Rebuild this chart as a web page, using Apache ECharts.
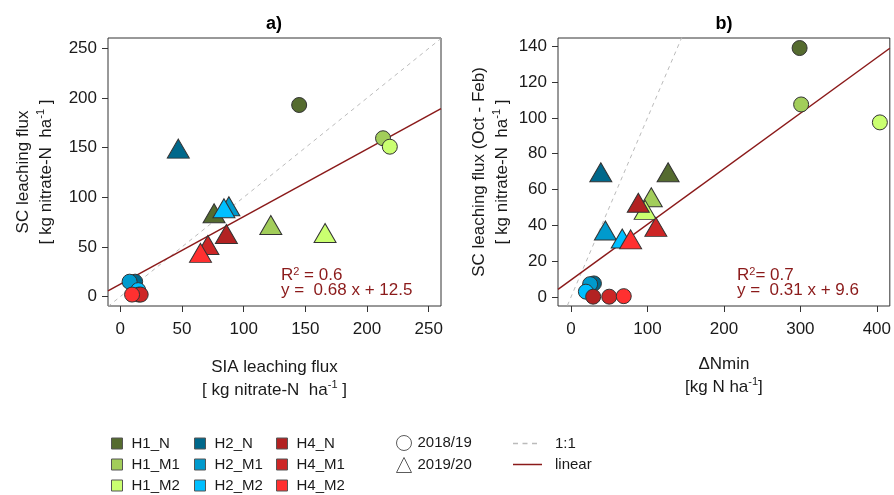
<!DOCTYPE html>
<html>
<head>
<meta charset="utf-8">
<script src="https://cdn.jsdelivr.net/npm/echarts@6/dist/echarts.min.js"></script>
<style>
  html, body { margin: 0; padding: 0; background: #fff; }
  #chart { width: 894px; height: 495px; }
</style>
</head>
<body>
<div id="chart"></div>
<script>
// groups (treatment) and their colours
var groups = ['H1_N', 'H1_M1', 'H1_M2', 'H2_N', 'H2_M1', 'H2_M2', 'H4_N', 'H4_M1', 'H4_M2'];
var groupColors = ['#556B2F', '#A2CD5A', '#CAFF70', '#00688B', '#009ACD', '#00BFFF', '#B22222', '#CD2626', '#FF3030'];
var years = ['2018/19', '2019/20'];

// a) SIA leaching flux (x) vs SC leaching flux (y)
var siaX1819 = [145, 213, 218.5, 12, 7.5, 14.5, 15, 16.5, 9.5];
var scY1819 = [193, 159.5, 151, 15, 15, 6.5, 2, 2, 2];
var siaX1920 = [76, 122, 166, 47, 88, 84, 86, 71, 65];
var scY1920 = [81, 69, 61, 146, 88, 86, 60, 49, 41];

// b) delta Nmin (x) vs SC leaching flux Oct - Feb (y)
var dNminX1819 = [299, 301, 404, 30, 25, 19.5, 29, 50, 69];
var scOFY1819 = [139, 107.5, 97.5, 7.6, 7.2, 3, 0.2, 0.2, 0.5];
var dNminX1920 = [127, 105, 97, 39, 45, 67, 88, 111, 78];
var scOFY1920 = [68, 54, 47, 68, 35.5, 31, 51, 37.5, 30.5];

// linear fits per panel
var fitSlope = [0.68, 0.31];
var fitIntercept = [12.5, 9.6];
var fitR2 = [0.6, 0.7];

// tick labels
var ticksAX = [0, 50, 100, 150, 200, 250];
var ticksAY = [0, 50, 100, 150, 200, 250];
var ticksBX = [0, 100, 200, 300, 400];
var ticksBY = [0, 20, 40, 60, 80, 100, 120, 140];

var FONT = 'Liberation Sans, Arial, sans-serif';
var TXT = '#1a1a1a';
var RED = '#8B1A1A';
var ranges = [
  { x: [-10, 260], y: [-9.5, 260.5] },
  { x: [-17, 417], y: [-5, 144.6] }
];

var myChart = echarts.init(document.getElementById('chart'));

function axis(idx, dim, ticks, nameTxt, gap) {
  var r = ranges[idx][dim];
  return {
    type: 'value',
    gridIndex: idx,
    min: r[0],
    max: r[1],
    name: nameTxt,
    nameLocation: 'middle',
    nameGap: gap,
    nameRotate: dim === 'y' ? 90 : 0,
    nameTextStyle: {
      fontFamily: FONT, fontSize: 17, color: TXT, lineHeight: 23,
      rich: {
        t: { fontFamily: FONT, fontSize: 17, color: TXT, lineHeight: 23 },
        s: { fontFamily: FONT, fontSize: 11, color: TXT, verticalAlign: 'top' }
      }
    },
    axisLine: { show: false, onZero: false },
    splitLine: { show: false },
    axisTick: { show: true, length: 6, customValues: ticks, lineStyle: { color: '#333' } },
    axisLabel: {
      customValues: ticks, fontFamily: FONT, fontSize: 17, color: TXT,
      margin: dim === 'y' ? 11 : 15
    }
  };
}

// scatter series, one per group and panel
var series = [];
var panelData = [
  [siaX1819, scY1819, siaX1920, scY1920],
  [dNminX1819, scOFY1819, dNminX1920, scOFY1920]
];
panelData.forEach(function (pd, p) {
  var xr = ranges[p].x;
  // 1:1 line
  series.push({
    name: '1:1', type: 'line', xAxisIndex: p, yAxisIndex: p, symbol: 'none',
    clip: true, silent: true, z: 1,
    lineStyle: { color: '#BBBBBB', width: 1, type: [4, 4] },
    data: [[xr[0], xr[0]], [xr[1], xr[1]]]
  });
  // linear fit
  series.push({
    name: 'linear', type: 'line', xAxisIndex: p, yAxisIndex: p, symbol: 'none',
    clip: true, silent: true, z: 1,
    lineStyle: { color: RED, width: 1.5 },
    data: [[xr[0], fitIntercept[p] + fitSlope[p] * xr[0]], [xr[1], fitIntercept[p] + fitSlope[p] * xr[1]]]
  });
  groups.forEach(function (g, i) {
    series.push({
      name: g, type: 'scatter', xAxisIndex: p, yAxisIndex: p, z: 3,
      itemStyle: { color: groupColors[i], borderColor: '#333', borderWidth: 1, opacity: 1 },
      emphasis: { disabled: true },
      data: [
        { value: [pd[0][i], pd[1][i]], symbol: 'circle', symbolSize: 15 },
        { value: [pd[2][i], pd[3][i]], symbol: 'triangle', symbolSize: [22, 19], symbolOffset: [0, -3] }
      ]
    });
  });
});
// empty series so the year shapes get legend entries
years.forEach(function (y) {
  series.push({ name: y, type: 'scatter', xAxisIndex: 0, yAxisIndex: 0, data: [] });
});

var legendText = { fontFamily: FONT, fontSize: 15, color: TXT, lineHeight: 15 };

function colLegend(names, left) {
  return {
    orient: 'vertical', left: left, top: 436, padding: 0, itemWidth: 11, itemHeight: 11, itemGap: 6,
    selectedMode: false, icon: 'rect',
    itemStyle: { borderColor: '#555', borderWidth: 1 },
    textStyle: Object.assign({ padding: [0, 0, 0, 4] }, legendText),
    data: names
  };
}

function lineLegend(name, top, width, path, color, pad) {
  return {
    orient: 'vertical', left: 513, top: top, padding: 0, itemWidth: width, itemHeight: 1.5,
    selectedMode: false,
    textStyle: Object.assign({ padding: [0, 0, 0, pad] }, legendText),
    data: [{ name: name, icon: path, itemStyle: { color: color, borderWidth: 0 } }]
  };
}

function fitText(p, x, y) {
  return [
    { type: 'text', left: x, top: y, style: {
      text: '{t|R}{s|2}{t|' + (p === 0 ? ' = ' : '= ') + fitR2[p] + '}', fill: RED,
      rich: { t: { fontFamily: FONT, fontSize: 17, fill: RED, lineHeight: 18 },
              s: { fontFamily: FONT, fontSize: 11, fill: RED, verticalAlign: 'top' } } } },
    { type: 'text', left: x, top: y + 16, style: {
      text: 'y =  ' + fitSlope[p] + ' x + ' + fitIntercept[p], fill: RED,
      fontFamily: FONT, fontSize: 17 } }
  ];
}

var option = {
  animation: false,
  backgroundColor: '#fff',
  grid: [
    { left: 108, top: 38, width: 333, height: 268, show: true, borderColor: '#333', borderWidth: 1 },
    { left: 558, top: 38, width: 333, height: 268, show: true, borderColor: '#333', borderWidth: 1 }
  ],
  xAxis: [
    axis(0, 'x', ticksAX, '{t|SIA leaching flux}\n{t|[ kg nitrate-N  ha}{s|-1}{t| ]}', 50),
    axis(1, 'x', ticksBX, '{t|ΔNmin}\n{t|[kg N ha}{s|-1}{t|]}', 47)
  ],
  yAxis: [
    axis(0, 'y', ticksAY, '{t|SC leaching flux}\n{t|[ kg nitrate-N  ha}{s|-1}{t| ]}', 50),
    axis(1, 'y', ticksBY, '{t|SC leaching flux (Oct - Feb)}\n{t|[ kg nitrate-N  ha}{s|-1}{t| ]}', 44)
  ],
  legend: [
    colLegend(groups.slice(0, 3), 111),
    colLegend(groups.slice(3, 6), 194),
    colLegend(groups.slice(6, 9), 276),
    {
      orient: 'vertical', left: 396, top: 435, padding: 0, itemWidth: 15, itemHeight: 15, itemGap: 6,
      selectedMode: false,
      textStyle: Object.assign({ padding: [0, 0, 0, 1] }, legendText),
      data: [
        { name: years[0], icon: 'circle', itemStyle: { color: '#fff', borderColor: '#333', borderWidth: 1 } },
        { name: years[1], icon: 'triangle', itemStyle: { color: '#fff', borderColor: '#333', borderWidth: 1 } }
      ]
    },
    lineLegend('1:1', 436, 24, 'path://M0,0h5v1.5h-5z M9.5,0h5v1.5h-5z M19,0h5v1.5h-5z', '#BBBBBB', 13),
    lineLegend('linear', 457, 29, 'path://M0,0h29v1.5h-29z', RED, 8)
  ],
  graphic: [
    { type: 'text', x: 274, y: 24, style: { text: 'a)', fontFamily: FONT, fontSize: 18, fontWeight: 'bold', fill: '#000', align: 'center', verticalAlign: 'middle' } },
    { type: 'text', x: 724, y: 24, style: { text: 'b)', fontFamily: FONT, fontSize: 18, fontWeight: 'bold', fill: '#000', align: 'center', verticalAlign: 'middle' } }
  ].concat(fitText(0, 281, 266), fitText(1, 737, 266)),
  series: series
};

myChart.setOption(option);
</script>
</body>
</html>
